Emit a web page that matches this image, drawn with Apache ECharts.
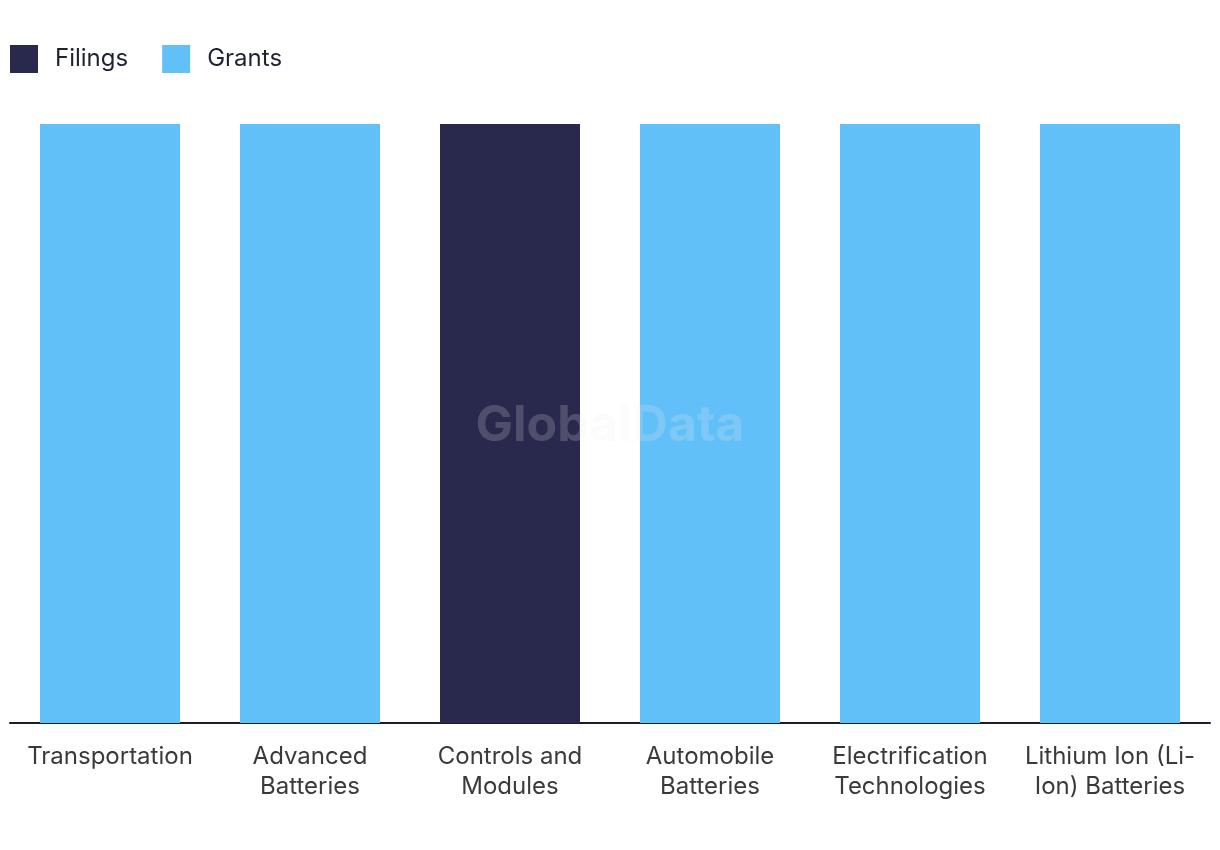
<!DOCTYPE html>
<html>
<head>
<meta charset="utf-8">
<script src="https://cdn.jsdelivr.net/npm/echarts@6/dist/echarts.min.js"></script>
<style>html,body{margin:0;padding:0;background:#fff;}#c{width:1220px;height:850px;}</style>
</head>
<body>
<div id="c"></div>
<script>
const categories = ['Transportation', 'Advanced\nBatteries', 'Controls and\nModules', 'Automobile\nBatteries', 'Electrification\nTechnologies', 'Lithium Ion (Li-\nIon) Batteries'];
const filings = [0, 0, 100, 0, 0, 0];
const grants = [100, 100, 0, 100, 100, 100];

const FONT = 'Inter, "Noto Sans", sans-serif';
const chart = echarts.init(document.getElementById('c'));
chart.setOption({
  animation: false,
  legend: {
    left: 10, top: 45, padding: 0, itemWidth: 28, itemHeight: 28, itemGap: 34,
    icon: 'rect',
    textStyle: { fontFamily: FONT, fontSize: 24, color: '#1f2233', padding: [0, 0, 0, 12] },
    data: ['Filings', 'Grants']
  },
  grid: { left: 10, right: 10, top: 124, bottom: 127, containLabel: false },
  xAxis: {
    type: 'category', data: categories,
    axisLine: { lineStyle: { color: '#1b1d2e', width: 2 } },
    axisTick: { show: false },
    axisLabel: { fontFamily: FONT, fontSize: 24, color: '#3a3a3a', lineHeight: 30, margin: 19, interval: 0 }
  },
  yAxis: { type: 'value', min: 0, max: 100, show: false, splitLine: { show: false } },
  graphic: [{
    type: 'text', z: 100,
    style: { x: 610, y: 426, text: 'GlobalData', textAlign: 'center', textVerticalAlign: 'middle', font: 'bold 50px ' + FONT, fill: 'rgba(235,235,240,0.2)' }
  }],
  series: [
    { name: 'Filings', type: 'bar', stack: 'a', data: filings, barWidth: 140, itemStyle: { color: '#28294d' } },
    { name: 'Grants', type: 'bar', stack: 'a', data: grants, barWidth: 140, itemStyle: { color: '#62c0f8' } }
  ]
});
</script>
</body>
</html>
